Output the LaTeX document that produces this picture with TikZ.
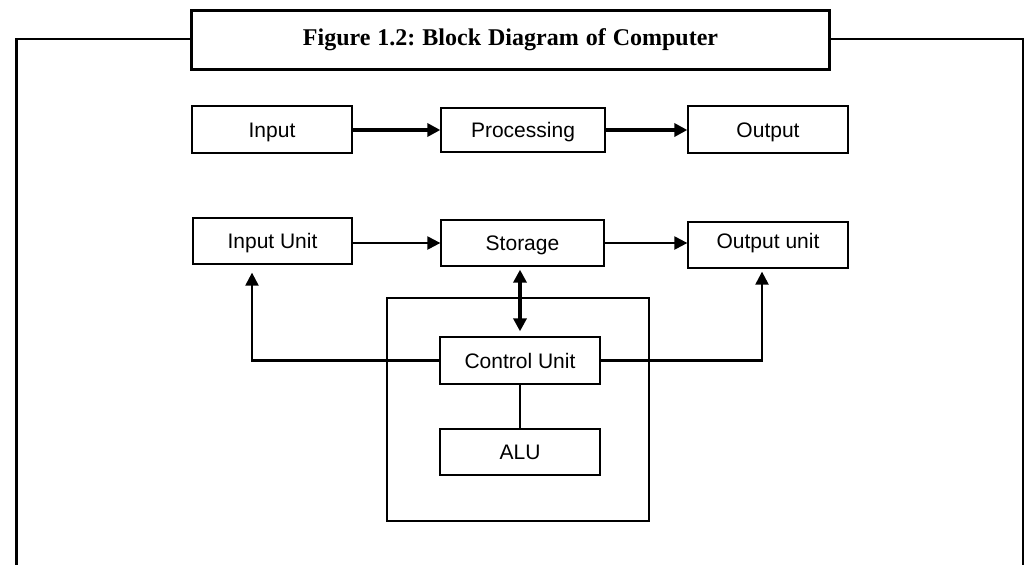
\documentclass[tikz,border=0pt]{standalone}
\usepackage{fontspec}
\setmainfont{Liberation Serif}
\setsansfont{Liberation Sans}
\usepackage{tikz}
\usetikzlibrary{arrows.meta,calc,positioning}

\newcommand{\gap}{\hspace{7pt}}

\begin{document}
\begin{tikzpicture}[x=1pt,y=-1pt,>={Triangle[length=13pt,width=13pt]},
                    blk/.style={draw,line width=1.3pt,inner sep=0pt,
                      minimum width=160pt,minimum height=46pt,
                      text height=15pt,text depth=0pt,
                      font=\sffamily\fontsize{21}{24}\selectfont},
                    thickarr/.style={->,line width=3.4pt},
                    arr/.style={->,line width=2.3pt},
                    frameline/.style={line width=2.8pt}]

  \useasboundingbox (0,0) rectangle (1024,565);

  % title and outer frame
  \node[draw,line width=3.2pt,minimum width=638pt,minimum height=59pt,
        font=\bfseries\fontsize{24}{28}\selectfont] at(510.5,40) (title)
        {Figure\gap 1.2:\gap Block\gap Diagram\gap of\gap Computer};
  \coordinate (tl) at(16.5,39);
  \coordinate (tr) at(1023,39);
  \draw[frameline] (title.west |- tl) -- (tl) -- (16.5,565);
  \draw[frameline] (title.east |- tr) -- (tr) -- (1023,565);

  % first row
  \node[blk,minimum height=47pt] at(272,129.5) (input) {Input};
  \node[blk,minimum width=164pt,minimum height=44pt] at(523,130) (proc) {Processing};
  \node[blk,minimum height=47pt] at(768,129.5) (output) {Output};

  \path (input.east |- proc) edge[thickarr] (proc.west)
        (proc.east) edge[thickarr] (output.west |- proc);

  % second row
  \node[blk,minimum width=159pt] at(272.5,241) (inunit) {Input Unit};
  \node[blk,minimum width=163pt] at(522.5,243) (storage) {Storage};
  \node[blk,text depth=8pt] at(768,245) (outunit) {Output unit};

  \path (inunit.east |- storage) edge[arr] (storage.west)
        (storage.east) edge[arr] (outunit.west |- storage);

  % processor block
  \node[draw,line width=1.5pt,minimum width=262pt,minimum height=223pt] at(518,409.5) (cpu) {};
  \node[blk,minimum height=47pt] at(520,360.5) (ctrl) {Control Unit};
  \node[blk] at(520,452) (alu) {ALU};

  \draw[<->,line width=3.4pt,shorten <=3pt,shorten >=5pt] (ctrl.north |- storage.south) -- (ctrl.north);
  \draw[line width=1.3pt] (ctrl) -- (alu);

  \coordinate (lturn) at(252,360.5);
  \coordinate (rturn) at(762,360.5);
  \draw[arr,shorten >=8pt] (ctrl.west) -- (lturn) -- (lturn |- inunit.south);
  \draw[arr,shorten >=3pt] (ctrl.east) -- (rturn) -- (rturn |- outunit.south);

\end{tikzpicture}
\end{document}
